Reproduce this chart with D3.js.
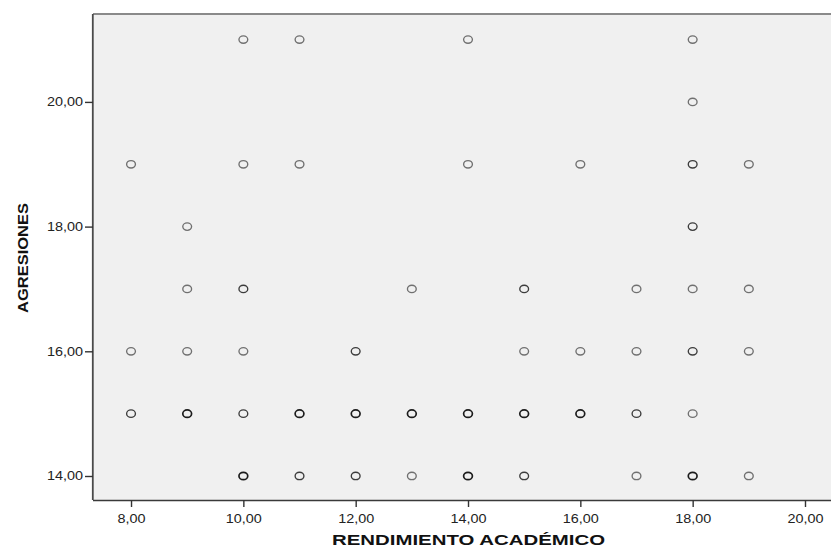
<!DOCTYPE html>
<html>
<head>
<meta charset="utf-8">
<script src="https://cdn.jsdelivr.net/npm/d3@7"></script>
<style>
  html, body { margin: 0; padding: 0; background: #ffffff; }
  svg { display: block; }
  text { font-family: "Liberation Sans", Arial, sans-serif; }
</style>
</head>
<body>
<svg id="chart" width="831" height="548"></svg>
<script>
// ---- data ----
const xTickValues = [8, 10, 12, 14, 16, 18, 20];
const yTickValues = [14, 16, 18, 20];
const xTitle = "RENDIMIENTO ACADÉMICO";
const yTitle = "AGRESIONES";

// rendimiento (x), agresiones (y), number of overlapping cases (darkness)
const rendimiento = [
  10, 11, 14, 18,
  18,
  8, 10, 11, 14, 16, 18, 19,
  9, 18,
  9, 10, 13, 15, 17, 18, 19,
  8, 9, 10, 12, 15, 16, 17, 18, 19,
  8, 9, 10, 11, 12, 13, 14, 15, 16, 17, 18,
  10, 11, 12, 13, 14, 15, 17, 18, 19
];
const agresiones = [
  21, 21, 21, 21,
  20,
  19, 19, 19, 19, 19, 19, 19,
  18, 18,
  17, 17, 17, 17, 17, 17, 17,
  16, 16, 16, 16, 16, 16, 16, 16, 16,
  15, 15, 15, 15, 15, 15, 15, 15, 15, 15, 15,
  14, 14, 14, 14, 14, 14, 14, 14, 14
];
const casos = [
  1, 1, 1, 1,
  1,
  1, 1, 1, 1, 1, 2, 1,
  1, 2,
  1, 2, 1, 2, 1, 1, 1,
  1, 1, 1, 2, 1, 1, 1, 2, 1,
  2, 3, 2, 3, 3, 3, 3, 3, 3, 2, 1,
  3, 2, 2, 1, 3, 2, 1, 3, 1
];

const points = rendimiento.map((x, i) => ({ x, y: agresiones[i], n: casos[i] }));

// ---- layout ----
const svg = d3.select("#chart");
const plot = { left: 93, top: 14, right: 831, bottom: 500 };
const hStretch = 1.2; // the original is drawn horizontally stretched

const x = d3.scaleLinear().domain([7.323, 20.463]).range([plot.left, plot.right]);
const y = d3.scaleLinear().domain([13.615, 21.41]).range([plot.bottom, plot.top]);

const fmt = v => d3.format(".2f")(v).replace(".", ",");

// plot background
svg.append("rect")
  .attr("x", plot.left).attr("y", plot.top)
  .attr("width", plot.right - plot.left + 10)
  .attr("height", plot.bottom - plot.top)
  .attr("fill", "#f0f0f0");

// top frame line
svg.append("line")
  .attr("x1", plot.left).attr("x2", plot.right + 10)
  .attr("y1", plot.top).attr("y2", plot.top)
  .attr("stroke", "#8a8a8a").attr("stroke-width", 2);

// axes
const xAxis = d3.axisBottom(x).tickValues(xTickValues).tickFormat(fmt).tickSizeOuter(0).tickSize(7).tickPadding(4);
const yAxis = d3.axisLeft(y).tickValues(yTickValues).tickFormat(fmt).tickSizeOuter(0).tickSize(8).tickPadding(2);

const gx = svg.append("g").attr("transform", `translate(0,${plot.bottom})`).call(xAxis);
const gy = svg.append("g").attr("transform", `translate(${plot.left},0)`).call(yAxis);

gx.select(".domain").attr("d", `M${plot.left},0.5H${plot.right + 10}`).attr("stroke", "#3a3a3a").attr("stroke-width", 1.6);
gy.select(".domain").attr("d", `M-0.2,${plot.top}V${plot.bottom}`).attr("stroke", "#4a4a4a").attr("stroke-width", 1.8);
[gx, gy].forEach(g => {
  g.selectAll(".tick line").attr("stroke", "#333").attr("stroke-width", 1.4);
  g.selectAll(".tick text")
    .attr("fill", "#222")
    .style("font-size", "12px")
    .style("font-family", '"Liberation Sans", Arial, sans-serif');
});
gx.selectAll(".tick text").attr("dy", "1.0em");

// stretch tick labels horizontally like the original
[gx, gy].forEach(g => {
  g.selectAll(".tick text").each(function () {
    const w = this.getComputedTextLength();
    d3.select(this).attr("textLength", w * hStretch).attr("lengthAdjust", "spacingAndGlyphs");
  });
});

// points
const stroke = d3.scaleOrdinal().domain([1, 2, 3]).range(["#707070", "#3c3c3c", "#1c1c1c"]);
svg.append("g")
  .selectAll("ellipse")
  .data(points)
  .join("ellipse")
  .attr("cx", d => x(d.x))
  .attr("cy", d => y(d.y))
  .attr("rx", 4.4)
  .attr("ry", 3.7)
  .attr("fill", "none")
  .attr("stroke", d => stroke(d.n))
  .attr("stroke-width", d => d.n >= 3 ? 1.7 : 1.35);

// axis titles
svg.append("text")
  .attr("x", 468.5).attr("y", 545)
  .attr("text-anchor", "middle")
  .style("font-size", "15px").style("font-weight", "bold")
  .attr("fill", "#111")
  .attr("textLength", 273).attr("lengthAdjust", "spacingAndGlyphs")
  .text(xTitle);

svg.append("text")
  .attr("transform", "translate(27.5,258) rotate(-90)")
  .attr("text-anchor", "middle")
  .style("font-size", "15px").style("font-weight", "bold")
  .attr("fill", "#111")
  .attr("textLength", 110).attr("lengthAdjust", "spacingAndGlyphs")
  .text(yTitle);
</script>
</body>
</html>
